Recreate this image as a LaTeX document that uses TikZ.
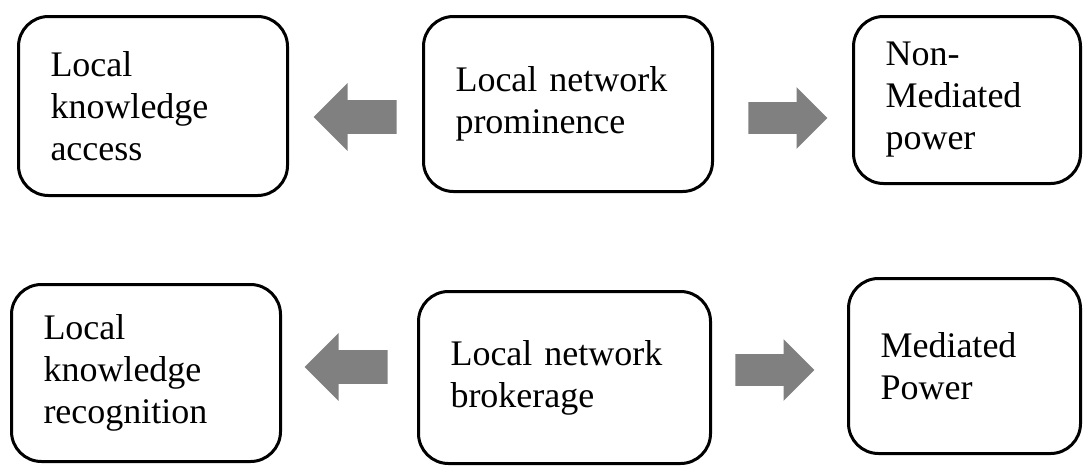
\documentclass[tikz,border=0pt]{standalone}
\usepackage{fontspec}
\setmainfont{Liberation Serif}
\usetikzlibrary{shapes.arrows}
\definecolor{arrowgray}{RGB}{128,128,128}
\tikzset{
  concept/.style={draw, rectangle, rounded corners=15pt, line width=1.5pt, align=left, inner xsep=16pt, inner ysep=0pt, font=\fontsize{18}{21}\selectfont},
  blockleft/.style={single arrow, fill=arrowgray, inner xsep=0pt, inner ysep=8.25pt, single arrow head extend=8.5pt, minimum height=41.5pt, shape border rotate=180, anchor=tail},
  blockright/.style={single arrow, fill=arrowgray, inner xsep=0pt, inner ysep=7.75pt, single arrow head extend=7.5pt, minimum height=39.5pt, anchor=tail},
}
\begin{document}
\begin{tikzpicture}[x=0.5pt, y=-0.5pt]
    \useasboundingbox (0,0) rectangle (1085,466);
    % Boxes
    \node[concept, minimum width=134.5pt, minimum height=89.5pt, text width=102.5pt] (access) at (153,106) {Local\\knowledge\\access};
    \node[concept, minimum width=144.5pt, minimum height=87.5pt, text width=112.5pt] (prominence) at (568,104) {Local network\\prominence};
    \node[concept, minimum width=113.5pt, minimum height=83.5pt, text width=81.5pt] (nonmediated) at (967,100) {Non-\\Mediated\\power};
    \node[concept, minimum width=134.5pt, minimum height=88.5pt, text width=102.5pt] (recognition) at (146,373) {Local\\knowledge\\recognition};
    \node[concept, minimum width=146pt, minimum height=86pt, text width=114pt] (brokerage) at (564.5,377.5) {Local network\\brokerage};
    \node[concept, minimum width=116pt, minimum height=87.5pt, text width=84pt] (mediated) at (964.5,366) {Mediated\\Power};

    % Arrows
    \node[blockleft] (promaccess) at (397,117) {};
    \node[blockright] (promnonmed) at (748,118) {};
    \node[blockleft] (brokrecog) at (388,367) {};
    \node[blockright] (brokmed) at (735,370) {};
\end{tikzpicture}
\end{document}
